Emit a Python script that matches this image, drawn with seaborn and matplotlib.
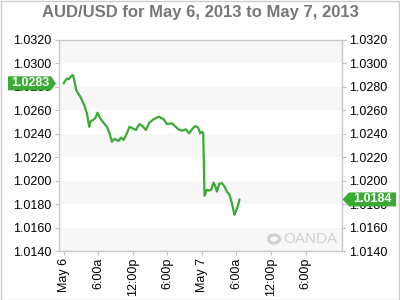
import numpy as np
import pandas as pd
import matplotlib
matplotlib.use("Agg")
import matplotlib.pyplot as plt
import matplotlib.patches as mpatches
import seaborn as sns

# ---- data (hours since May 6 00:00, AUD/USD rate) ----
hours = [0.0, 0.29, 0.59, 0.87, 1.16, 1.34, 1.63, 1.86, 2.20, 2.90, 3.59, 4.06, 4.46, 4.63,
         5.10, 5.50, 5.90, 6.36, 6.94, 7.53, 7.98, 8.39, 8.84, 9.26, 9.54, 9.95, 10.40, 10.87,
         11.45, 11.97, 12.56, 13.13, 13.70, 14.29, 14.86, 15.61, 16.47, 17.34, 17.93, 18.80,
         19.94, 20.53, 21.23, 21.80, 22.27, 22.84, 23.31, 23.71, 24.00, 24.23, 24.45, 24.87,
         25.27, 25.61, 26.01, 26.31, 26.60, 27.00, 27.47, 27.92, 28.33, 28.79, 29.20, 29.65,
         29.89, 30.24, 30.52]
rates = [1.02830, 1.02852, 1.02872, 1.02864, 1.02881, 1.02892, 1.02900, 1.02858, 1.02773,
         1.02716, 1.02645, 1.02574, 1.02460, 1.02503, 1.02517, 1.02532, 1.02580, 1.02532,
         1.02494, 1.02460, 1.02404, 1.02333, 1.02356, 1.02347, 1.02339, 1.02367, 1.02347,
         1.02390, 1.02460, 1.02447, 1.02432, 1.02483, 1.02466, 1.02432, 1.02494, 1.02523,
         1.02546, 1.02526, 1.02483, 1.02489, 1.02438, 1.02426, 1.02438, 1.02404, 1.02438,
         1.02466, 1.02455, 1.02404, 1.02418, 1.02404, 1.01871, 1.01922, 1.01916, 1.01922,
         1.01984, 1.01956, 1.01907, 1.01973, 1.01979, 1.01950, 1.01907, 1.01879, 1.01809,
         1.01709, 1.01737, 1.01786, 1.01840]
x_tick_pos = [0, 6, 12, 18, 24, 30, 36, 42]
x_tick_labels = ["May 6", "6:00a", "12:00p", "6:00p", "May 7", "6:00a", "12:00p", "6:00p"]
y_ticks = [1.0140, 1.0160, 1.0180, 1.0200, 1.0220, 1.0240, 1.0260, 1.0280, 1.0300, 1.0320]
open_label = "1.0283"
last_label = "1.0184"
open_value = 1.0283
last_value = 1.0184
title = "AUD/USD for May 6, 2013 to May 7, 2013"

df = pd.DataFrame({"hours": hours, "rate": rates})

sns.set_theme(style="white")
plt.rcParams["font.family"] = ["Liberation Sans", "DejaVu Sans"]

GREEN = "#3aaa35"
W, H = 400, 300
fig = plt.figure(figsize=(4, 3), dpi=100)
ax = fig.add_axes([58.5 / W, 1 - 251 / H, (342 - 58.5) / W, (251 - 40) / H])

# alternating bands
for i in range(len(y_ticks) - 1):
    if i % 2 == 0:
        ax.axhspan(y_ticks[i], y_ticks[i + 1], color="#f7f7f7", lw=0, zorder=0)

sns.lineplot(data=df, x="hours", y="rate", color=GREEN, lw=1.6, ax=ax, zorder=3)

ax.set_xlim(-0.87, 48.3)
ax.set_ylim(1.0140, 1.0320)
ax.set_xticks(x_tick_pos)
ax.set_xticklabels(x_tick_labels, rotation=90, fontsize=9, color="#000000")
ax.set_yticks(y_ticks)
ax.set_yticklabels([f"{v:.4f}" for v in y_ticks], fontsize=9, color="#000000")
ax.tick_params(axis="y", which="both", left=True, right=True, labelleft=True, labelright=True,
               length=3, width=0.8, color="#c0c0c0", pad=2)
ax.tick_params(axis="x", bottom=True, length=3, width=0.8, color="#c0c0c0", pad=2)
ax.set_xlabel("")
ax.set_ylabel("")
for s in ax.spines.values():
    s.set_color("#c8c8c8")
    s.set_linewidth(1.0)

# title
fig.text(0.5, 1 - 13 / H, title, ha="center", va="center", fontsize=12,
         fontweight="bold", color="#777777")

# value labels
fig.canvas.draw()
def ypix(v):
    return ax.transData.transform((0, v))[1]

yo = ypix(open_value)
hh = 7
poly = [(8, yo - hh), (51, yo - hh), (56, yo), (51, yo + hh), (8, yo + hh)]
fig.patches.append(mpatches.Polygon([(px / W, py / H) for px, py in poly], closed=True,
                                    transform=fig.transFigure, facecolor=GREEN, edgecolor="none"))
fig.text(30 / W, yo / H, open_label, ha="center", va="center", fontsize=9, color="white",
         fontweight="bold")

yl = ypix(last_value)
poly = [(342.5, yl), (349, yl - hh), (396, yl - hh), (396, yl + hh), (349, yl + hh)]
fig.patches.append(mpatches.Polygon([(px / W, py / H) for px, py in poly], closed=True,
                                    transform=fig.transFigure, facecolor=GREEN, edgecolor="none"))
fig.text(372 / W, yl / H, last_label, ha="center", va="center", fontsize=9, color="white",
         fontweight="bold")

# watermark
fig.patches.append(mpatches.Circle((274 / W, 1 - 239 / H), 5.5 / W, transform=fig.transFigure,
                                   facecolor="none", edgecolor="#d0d0d0", lw=2.2))
fig.text(310 / W, 1 - 239 / H, "OANDA", ha="center", va="center", fontsize=11, color="#d3d3d3")

# figure border
fig.patches.append(mpatches.Rectangle((0.5 / W, 0.5 / H), (W - 1.5) / W, (H - 1.5) / H,
                                      transform=fig.transFigure, fill=False,
                                      edgecolor="#cccccc", lw=1.0))

fig.savefig("out.png", dpi=100)
